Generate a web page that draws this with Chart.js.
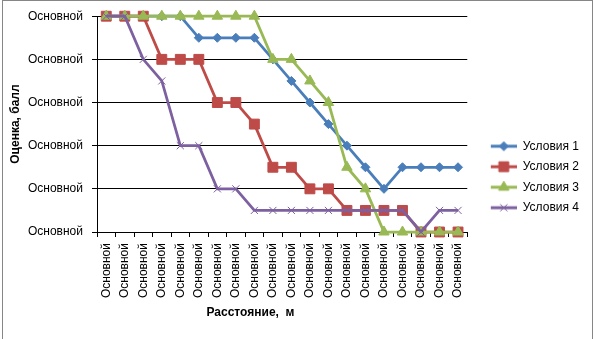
<!DOCTYPE html>
<html lang="ru">
<head>
  <meta charset="UTF-8">
  <title>Оценка по расстоянию</title>
  <script src="https://cdn.jsdelivr.net/npm/chart.js"></script>
  <style>
    body { margin: 0; background: #fff; }
  </style>
</head>
<body>
  <canvas id="chart" width="594" height="339"></canvas>

  <script>
    // data (y: 0..5, step 0.5)
    const categories = Array(20).fill('Основной');
    const yTickLabel = 'Основной';
    const seriesNames = ['Условия 1', 'Условия 2', 'Условия 3', 'Условия 4'];
    const usl1 = [5, 5, 5, 5, 5, 4.5, 4.5, 4.5, 4.5, 4, 3.5, 3, 2.5, 2, 1.5, 1, 1.5, 1.5, 1.5, 1.5];
    const usl2 = [5, 5, 5, 4, 4, 4, 3, 3, 2.5, 1.5, 1.5, 1, 1, 0.5, 0.5, 0.5, 0.5, 0, 0, 0];
    const usl3 = [5, 5, 5, 5, 5, 5, 5, 5, 5, 4, 4, 3.5, 3, 1.5, 1, 0, 0, 0, 0, 0];
    const usl4 = [5, 5, 4, 3.5, 2, 2, 1, 1, 0.5, 0.5, 0.5, 0.5, 0.5, 0.5, 0.5, 0.5, 0.5, 0, 0.5, 0.5];

    const colors = ['#4A7EBB', '#BE4B48', '#98B954', '#7D60A0'];
    const markers = [
      { style: 'rectRot', r: 4.5 },
      { style: 'rect', r: 7 },
      { style: 'triangle', r: 6 },
      { style: 'crossRot', r: 5 }
    ];
    const font = 'Liberation Sans';

    // legend icon: short line with the marker in the middle, left part left empty as a gap
    const GAP = 15, LINE = 26;
    function legendIcon(color, m) {
      const c = document.createElement('canvas');
      c.width = GAP + LINE;
      c.height = 16;
      const g = c.getContext('2d');
      g.strokeStyle = color;
      g.fillStyle = color;
      g.lineWidth = 3;
      g.beginPath();
      g.moveTo(GAP, 8);
      g.lineTo(GAP + LINE, 8);
      g.stroke();
      g.lineWidth = 1;
      Chart.helpers.drawPoint(g, { pointStyle: m.style, radius: m.r, rotation: 0, borderWidth: 1 }, GAP + LINE / 2, 8);
      return c;
    }

    const allData = [usl1, usl2, usl3, usl4];
    const datasets = allData.map((d, i) => ({
      label: seriesNames[i],
      data: d,
      borderColor: colors[i],
      backgroundColor: colors[i],
      borderWidth: 2.75,
      tension: 0,
      pointStyle: markers[i].style,
      pointRadius: markers[i].r,
      pointHoverRadius: markers[i].r,
      pointBorderWidth: 1,
      pointBackgroundColor: colors[i],
      pointBorderColor: colors[i],
      clip: false,
      order: 4 - i   // later series drawn on top, as in the original
    }));

    const frame = {
      id: 'frame',
      beforeDraw(chart) {
        const ctx = chart.ctx;
        ctx.save();
        ctx.fillStyle = '#fff';
        ctx.fillRect(0, 0, chart.width, chart.height);
        ctx.strokeStyle = '#868686';
        ctx.lineWidth = 1;
        ctx.strokeRect(2.5, 0.5, 590, 360);
        ctx.restore();
      }
    };

    new Chart(document.getElementById('chart'), {
      type: 'line',
      data: { labels: categories, datasets: datasets },
      plugins: [frame],
      options: {
        responsive: false,
        animation: false,
        layout: { padding: { top: 15, right: 5, left: 0, bottom: 0 } },
        plugins: {
          tooltip: { enabled: false },
          legend: {
            position: 'right',
            labels: {
              usePointStyle: true,
              pointStyleWidth: GAP + LINE,
              padding: 8.5,
              color: '#000',
              font: { family: font, size: 12 },
              generateLabels: chart => chart.data.datasets.map((ds, i) => ({
                text: ds.label,
                pointStyle: legendIcon(colors[i], markers[i]),
                datasetIndex: i,
                fillStyle: colors[i],
                strokeStyle: colors[i],
                lineWidth: 0,
                hidden: false,
                fontColor: '#000'
              }))
            }
          }
        },
        scales: {
          x: {
            offset: true,
            afterFit: s => { s.height = 107; },
            grid: { offset: true, drawOnChartArea: false, drawTicks: true, tickLength: 5, color: '#000' },
            border: { color: '#000', width: 1 },
            ticks: {
              autoSkip: false, minRotation: 90, maxRotation: 90, padding: 6,
              color: '#000', font: { family: font, size: 12 }
            },
            title: {
              display: true,
              text: 'Расстояние,  м' + ' '.repeat(19),
              color: '#000',
              font: { family: font, size: 12, weight: 'bold' },
              padding: { top: 0, bottom: 19 }
            }
          },
          y: {
            min: 0, max: 5,
            afterFit: s => { s.width = 97; },
            grid: { color: '#000', tickLength: 5 },
            border: { color: '#000', width: 1 },
            ticks: {
              stepSize: 1, padding: 9, color: '#000',
              font: { family: font, size: 12 },
              callback: () => yTickLabel
            },
            title: {
              display: true,
              text: 'Оценка, балл',
              color: '#000',
              font: { family: font, size: 12, weight: 'bold' },
              padding: { top: 8, bottom: 0 }
            }
          }
        }
      }
    });
  </script>
</body>
</html>
